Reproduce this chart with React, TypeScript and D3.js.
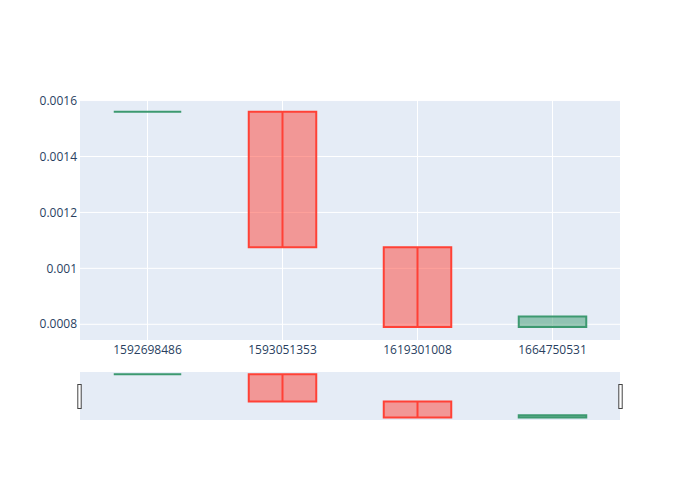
import React from "react";
import * as d3 from "d3";

const categories: string[] = ["1592698486", "1593051353", "1619301008", "1664750531"];
const openValues: number[] = [0.00156, 0.00156, 0.001075, 0.00079];
const closeValues: number[] = [0.00156, 0.001075, 0.00079, 0.000828];
const highValues: number[] = [0.00156, 0.001075, 0.00079, 0.000828];
const lowValues: number[] = [0.00156, 0.00156, 0.001075, 0.00079];
const yTicks: number[] = [0.0008, 0.001, 0.0012, 0.0014, 0.0016];
const yTickLabels: string[] = ["0.0008", "0.001", "0.0012", "0.0014", "0.0016"];

const W = 700;
const H = 500;
const L = 80;
const R = 620;
const MAIN_TOP = 100;
const MAIN_BOTTOM = 340;
const SL_TOP = 372;
const SL_BOTTOM = 420;
const INC = "#3D9970";
const DEC = "#FF4136";
const TEXT = "#2a3f5f";
const BG = "#e5ecf6";

export default function App() {
  const x = d3.scaleLinear().domain([-0.5, categories.length - 0.5]).range([L, R]);
  const allVals = [...openValues, ...closeValues, ...highValues, ...lowValues];
  const dataMin = d3.min(allVals) as number;
  const dataMax = d3.max(allVals) as number;
  const span = dataMax - dataMin;
  const yDomain: [number, number] = [dataMin - span * 0.06, dataMax + span * 0.0545];
  const y = d3.scaleLinear().domain(yDomain).range([MAIN_BOTTOM, MAIN_TOP]);
  const ys = d3.scaleLinear().domain(yDomain).range([SL_BOTTOM, SL_TOP]);
  const step = x(1) - x(0);
  const half = step * 0.25;

  // plotly-style box path: median (close) line, box q1..q3, whiskers q1->low, q3->high
  const candlePath = (i: number, sc: d3.ScaleLinear<number, number>) => {
    const cx = x(i);
    const o = openValues[i];
    const c = closeValues[i];
    const q1 = sc(Math.min(o, c));
    const q3 = sc(Math.max(o, c));
    const med = sc(c);
    const lf = sc(lowValues[i]);
    const uf = sc(highValues[i]);
    return (
      `M${cx - half},${med}H${cx + half}` +
      `M${cx - half},${q1}V${q3}H${cx + half}V${q1}Z` +
      `M${cx},${q1}V${lf}M${cx},${q3}V${uf}`
    );
  };

  const candles = (sc: d3.ScaleLinear<number, number>, key: string) =>
    categories.map((_, i) => {
      const inc = closeValues[i] >= openValues[i];
      const col = inc ? INC : DEC;
      return (
        <path
          key={key + i}
          d={candlePath(i, sc)}
          fill={col}
          fillOpacity={0.5}
          stroke={col}
          strokeWidth={2}
        />
      );
    });

  return (
    <svg
      width={W}
      height={H}
      style={{ position: "absolute", left: 0, top: 0, background: "#fff" }}
      fontFamily='"Open Sans", verdana, arial, sans-serif'
    >
      <defs>
        <clipPath id="mainclip">
          <rect x={L} y={MAIN_TOP} width={R - L} height={MAIN_BOTTOM - MAIN_TOP} />
        </clipPath>
        <clipPath id="slclip">
          <rect x={L} y={SL_TOP} width={R - L} height={SL_BOTTOM - SL_TOP} />
        </clipPath>
      </defs>
      <rect x={L} y={MAIN_TOP} width={R - L} height={MAIN_BOTTOM - MAIN_TOP} fill={BG} />
      {categories.map((c, i) => (
        <line key={"xg" + c} x1={x(i)} x2={x(i)} y1={MAIN_TOP} y2={MAIN_BOTTOM} stroke="#fff" strokeWidth={1} />
      ))}
      {yTicks.map((t) => (
        <line key={"yg" + t} x1={L} x2={R} y1={y(t)} y2={y(t)} stroke="#fff" strokeWidth={1} />
      ))}
      <g clipPath="url(#mainclip)">{candles(y, "m")}</g>
      {yTicks.map((t, i) => (
        <text key={"yt" + t} x={L - 3} y={y(t)} dy="0.35em" textAnchor="end" fontSize={12} fill={TEXT}>
          {yTickLabels[i]}
        </text>
      ))}
      {categories.map((c, i) => (
        <text key={"xt" + c} x={x(i)} y={MAIN_BOTTOM + 13.5} textAnchor="middle" fontSize={12} fill={TEXT}>
          {c}
        </text>
      ))}
      <rect x={L} y={SL_TOP} width={R - L} height={SL_BOTTOM - SL_TOP} fill={BG} />
      <g clipPath="url(#slclip)">{candles(ys, "s")}</g>
      <rect x={77.8} y={384.5} width={3.4} height={24} fill="#fff" stroke="#444" strokeWidth={1} />
      <rect x={618.8} y={384.5} width={3.4} height={24} fill="#fff" stroke="#444" strokeWidth={1} />
    </svg>
  );
}
